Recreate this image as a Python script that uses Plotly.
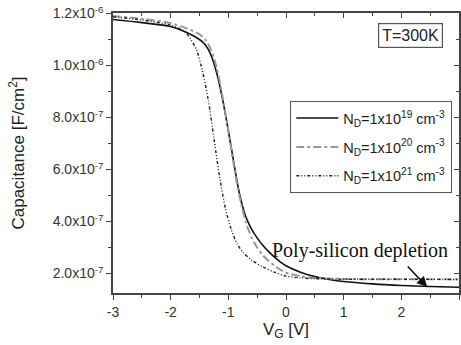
import plotly.graph_objects as go

# Gate voltage samples and capacitance (in 1e-6 F/cm^2) for each doping
v_19 = [-3, -2.5, -2, -1.75, -1.5, -1.4, -1.3, -1.2, -1.1, -1.0, -0.9, -0.8, -0.7, -0.6,
        -0.5, -0.4, -0.3, -0.2, -0.1, 0, 0.25, 0.5, 0.75, 1, 1.5, 2, 2.5, 3]
c_19 = [1.177, 1.165, 1.15, 1.13, 1.10, 1.08, 1.04, 0.97, 0.87, 0.75, 0.62, 0.50, 0.42, 0.372,
        0.337, 0.308, 0.284, 0.263, 0.245, 0.230, 0.205, 0.188, 0.177, 0.169, 0.16, 0.154, 0.15, 0.147]

v_20 = [-3, -2.5, -2, -1.75, -1.5, -1.4, -1.3, -1.2, -1.1, -1.0, -0.9, -0.8, -0.7, -0.6,
        -0.5, -0.4, -0.3, -0.2, -0.1, 0, 0.25, 0.5, 1, 2, 3]
c_20 = [1.19, 1.18, 1.163, 1.145, 1.12, 1.10, 1.06, 0.99, 0.88, 0.75, 0.61, 0.49, 0.40, 0.34,
        0.30, 0.27, 0.248, 0.23, 0.215, 0.203, 0.19, 0.183, 0.179, 0.178, 0.178]

v_21 = [-3, -2.5, -2, -1.75, -1.65, -1.55, -1.45, -1.35, -1.25, -1.15, -1.05, -0.95, -0.85,
        -0.75, -0.6, -0.4, -0.2, 0, 0.25, 0.5, 1, 2, 3]
c_21 = [1.187, 1.175, 1.155, 1.13, 1.10, 1.06, 0.98, 0.87, 0.72, 0.57, 0.45, 0.37, 0.315,
        0.283, 0.252, 0.225, 0.205, 0.19, 0.183, 0.18, 0.178, 0.178, 0.177]

scale = 1e-6
y_tick_vals = [2e-7, 4e-7, 6e-7, 8e-7, 1.0e-6, 1.2e-6]
y_tick_text = ["2.0x10<sup>-7</sup>", "4.0x10<sup>-7</sup>", "6.0x10<sup>-7</sup>",
               "8.0x10<sup>-7</sup>", "1.0x10<sup>-6</sup>", "1.2x10<sup>-6</sup>"]
y_minor_vals = [3e-7, 5e-7, 7e-7, 9e-7, 1.1e-6]
x_tick_vals = [-3, -2, -1, 0, 1, 2, 3]
x_range = [-3, 3]
y_range = [0.125e-6, 1.202e-6]

fig = go.Figure()
fig.add_trace(go.Scatter(x=v_19, y=[c * scale for c in c_19], mode="lines",
                         line=dict(color="#111111", width=1.6, shape="spline", smoothing=0.8),
                         name="N<sub>D</sub>=1x10<sup>19</sup> cm<sup>-3</sup>", legendgroup="a"))
fig.add_trace(go.Scatter(x=v_20, y=[c * scale for c in c_20], mode="lines",
                         line=dict(color="#999999", width=2, dash="8px,3px,3px,3px", shape="spline", smoothing=0.8),
                         name="N<sub>D</sub>=1x10<sup>20</sup> cm<sup>-3</sup>", legendgroup="b"))
fig.add_trace(go.Scatter(x=v_21, y=[c * scale for c in c_21], mode="lines",
                         line=dict(color="#222222", width=1.4, dash="3px,2px,1px,2px,1px,2px", shape="spline", smoothing=0.8),
                         name="N<sub>D</sub>=1x10<sup>21</sup> cm<sup>-3</sup>", legendgroup="c"))
# invisible copy bound to the mirror axes so their inward ticks are drawn
fig.add_trace(go.Scatter(x=v_19, y=[c * scale for c in c_19], mode="lines", xaxis="x2", yaxis="y2",
                         line=dict(width=0), opacity=0, showlegend=False, hoverinfo="skip"))

tick_font = dict(family="Liberation Sans, Arial", size=14, color="#333")
title_font = dict(family="Liberation Sans, Arial", size=17, color="#222")

fig.update_layout(
    xaxis=dict(range=x_range, tickvals=x_tick_vals, ticktext=[str(v) for v in x_tick_vals],
               showline=True, linecolor="#444", linewidth=1.5, mirror=True,
               ticks="outside", ticklen=5, tickcolor="#444", tickwidth=1.2,
               minor=dict(dtick=0.5, ticks="outside", ticklen=3, tickcolor="#444"),
               showgrid=False, zeroline=False, tickfont=tick_font, automargin=False,
               title=dict(text="V<sub>G</sub> [V]", font=title_font, standoff=4)),
    yaxis=dict(range=y_range, tickvals=y_tick_vals, ticktext=y_tick_text,
               showline=True, linecolor="#444", linewidth=1.5, mirror=True,
               ticks="outside", ticklen=5, tickcolor="#444", tickwidth=1.2,
               minor=dict(tickvals=y_minor_vals, ticks="outside", ticklen=3, tickcolor="#444"),
               showgrid=False, zeroline=False, tickfont=tick_font, automargin=False,
               title=dict(text="Capacitance [F/cm<sup>2</sup>]", font=title_font, standoff=24)),
    xaxis2=dict(range=x_range, overlaying="x", side="top", tickvals=x_tick_vals,
                showticklabels=False, ticks="inside", ticklen=5, tickcolor="#444", tickwidth=1.2,
                minor=dict(dtick=0.5, ticks="inside", ticklen=3, tickcolor="#444"),
                showgrid=False, zeroline=False, showline=False, automargin=False),
    yaxis2=dict(range=y_range, overlaying="y", side="right", tickvals=y_tick_vals,
                showticklabels=False, ticks="inside", ticklen=5, tickcolor="#444", tickwidth=1.2,
                minor=dict(tickvals=y_minor_vals, ticks="inside", ticklen=3, tickcolor="#444"),
                showgrid=False, zeroline=False, showline=False, automargin=False),
)

fig.add_annotation(x=0.955, y=0.964, xref="paper", yref="paper", xanchor="right", yanchor="top",
                   text="T=300K", showarrow=False, bordercolor="#555", borderwidth=1.2,
                   borderpad=3, bgcolor="white",
                   font=dict(family="Liberation Sans, Arial", size=16, color="#222"))
fig.add_annotation(x=2.45, y=0.148e-6, ax=-21, ay=-22, text="", showarrow=True,
                   arrowhead=2, arrowsize=1.3, arrowwidth=1.6, arrowcolor="#111")
fig.add_annotation(x=0.975, y=0.152, xref="paper", yref="paper", xanchor="right", yanchor="middle",
                   text="Poly-silicon depletion", showarrow=False,
                   font=dict(family="Liberation Serif, Times New Roman", size=20, color="#111"))

fig.update_layout(width=461, height=345, margin=dict(l=113, r=2, t=13, b=52),
                  paper_bgcolor="white", plot_bgcolor="white",
                  legend=dict(x=0.98, y=0.686, xanchor="right", yanchor="top",
                              bordercolor="#555", borderwidth=1.2, bgcolor="white",
                              tracegroupgap=7, itemwidth=42,
                              font=dict(family="Liberation Sans, Arial", size=14.5, color="#222")),
                  showlegend=True)

fig.write_html("out.html")
